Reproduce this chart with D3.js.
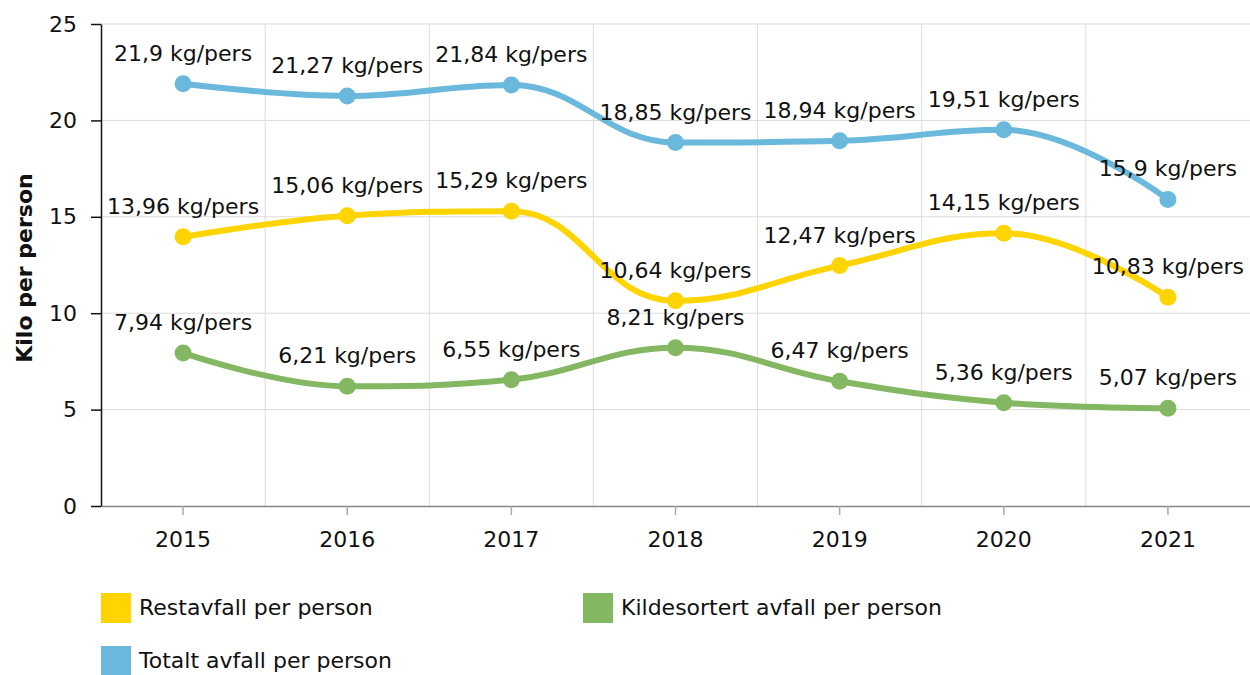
<!DOCTYPE html>
<html>
<head>
<meta charset="utf-8">
<script src="https://cdn.jsdelivr.net/npm/d3@7"></script>
<style>
  body { margin: 0; background: #fff; }
  text { font-family: "DejaVu Sans", Verdana, sans-serif; fill: #111; }
</style>
</head>
<body>
<div id="chart"></div>
<script>
// data
const years = ["2015", "2016", "2017", "2018", "2019", "2020", "2021"];
const restavfall = [13.96, 15.06, 15.29, 10.64, 12.47, 14.15, 10.83];
const kildesortert = [7.94, 6.21, 6.55, 8.21, 6.47, 5.36, 5.07];
const totalt = [21.9, 21.27, 21.84, 18.85, 18.94, 19.51, 15.9];
const yTicks = [0, 5, 10, 15, 20, 25];

const series = [
  { name: "Totalt avfall per person", values: totalt, color: "#6ab8dc" },
  { name: "Restavfall per person", values: restavfall, color: "#ffd400" },
  { name: "Kildesortert avfall per person", values: kildesortert, color: "#84b762" }
];
const legendItems = [
  { name: "Restavfall per person", color: "#ffd400", col: 0, row: 0 },
  { name: "Kildesortert avfall per person", color: "#84b762", col: 1, row: 0 },
  { name: "Totalt avfall per person", color: "#6ab8dc", col: 0, row: 1 }
];

const W = 1250, H = 675;
const margin = { top: 24, right: 0, bottom: 169, left: 101 };
const width = W - margin.left - margin.right;
const height = H - margin.top - margin.bottom;

// spline curve like the one the original chart used (smoothing 1.5, no false extremes)
function splineCurve(context) {
  let pts;
  return {
    lineStart() { pts = []; },
    point(x, y) { pts.push([+x, +y]); },
    lineEnd() {
      const n = pts.length;
      if (!n) return;
      const s = 1.5, den = s + 1;
      const ctl = pts.map((p, i) => {
        if (i === 0 || i === n - 1) return { l: p, r: p };
        const [px, py] = p, [ax, ay] = pts[i - 1], [bx, by] = pts[i + 1];
        let lx = (s * px + ax) / den, ly = (s * py + ay) / den;
        let rx = (s * px + bx) / den, ry = (s * py + by) / den;
        const dl = Math.hypot(lx - px, ly - py), dr = Math.hypot(rx - px, ry - py);
        const la = Math.atan2(ly - py, lx - px), ra = Math.atan2(ry - py, rx - px);
        let corr = Math.PI / 2 + (la + ra) / 2;
        if (Math.abs(la - corr) > Math.PI / 2) corr -= Math.PI;
        lx = px + Math.cos(corr) * dl; ly = py + Math.sin(corr) * dl;
        rx = px + Math.cos(Math.PI + corr) * dr; ry = py + Math.sin(Math.PI + corr) * dr;
        if (ly > ay && ly > py) { ly = Math.max(ay, py); ry = 2 * py - ly; }
        else if (ly < ay && ly < py) { ly = Math.min(ay, py); ry = 2 * py - ly; }
        if (ry > by && ry > py) { ry = Math.max(by, py); ly = 2 * py - ry; }
        else if (ry < by && ry < py) { ry = Math.min(by, py); ly = 2 * py - ry; }
        return { l: [lx, ly], r: [rx, ry] };
      });
      context.moveTo(pts[0][0], pts[0][1]);
      for (let i = 1; i < n; i++) {
        const a = ctl[i - 1].r, b = ctl[i].l;
        context.bezierCurveTo(a[0], a[1], b[0], b[1], pts[i][0], pts[i][1]);
      }
    }
  };
}

const svg = d3.select("#chart").append("svg")
  .attr("width", W).attr("height", H)
  .attr("xmlns", "http://www.w3.org/2000/svg");

const g = svg.append("g").attr("transform", `translate(${margin.left},${margin.top})`);

const x = d3.scaleBand().domain(years).range([0, width]);
const y = d3.scaleLinear().domain([0, 25]).range([height, 0]);
const cx = d => x(d) + x.bandwidth() / 2;

// grid
g.append("g").selectAll("line.h").data(yTicks.filter(t => t > 0)).join("line")
  .attr("x1", 0).attr("x2", width)
  .attr("y1", d => y(d)).attr("y2", d => y(d))
  .attr("stroke", "#dcdcdc").attr("stroke-width", 1);
g.append("g").selectAll("line.v").data(years.slice(1)).join("line")
  .attr("x1", d => x(d)).attr("x2", d => x(d))
  .attr("y1", 0).attr("y2", height)
  .attr("stroke", "#dcdcdc").attr("stroke-width", 1);

// x axis
const xAxis = g.append("g").attr("transform", `translate(0,${height})`)
  .call(d3.axisBottom(x).tickSize(9).tickSizeOuter(0).tickPadding(16));
xAxis.select(".domain").attr("stroke", "#888").attr("stroke-width", 1.5);
xAxis.selectAll(".tick line").attr("stroke", "#aaa").attr("stroke-width", 1.5);
xAxis.selectAll("text").style("font-size", "22px").attr("fill", "#111");

// y axis
const yAxis = g.append("g")
  .call(d3.axisLeft(y).tickValues(yTicks).tickSize(10).tickPadding(14).tickSizeOuter(0));
yAxis.select(".domain").attr("stroke", "#111").attr("stroke-width", 1.5);
yAxis.selectAll(".tick line").attr("stroke", "#111").attr("stroke-width", 1.5);
yAxis.selectAll("text").style("font-size", "22px").attr("fill", "#111");

svg.append("text")
  .attr("transform", `translate(32,${margin.top + height / 2 + 3}) rotate(-90)`)
  .attr("text-anchor", "middle")
  .style("font-size", "22px").style("font-weight", "bold")
  .text("Kilo per person");

// lines
const line = d3.line()
  .x((d, i) => cx(years[i]))
  .y(d => y(d))
  .curve(splineCurve);

const sg = g.selectAll("g.series").data(series).join("g");
sg.append("path")
  .attr("fill", "none")
  .attr("stroke", d => d.color)
  .attr("stroke-width", 6)
  .attr("stroke-linecap", "round")
  .attr("d", d => line(d.values));
sg.selectAll("circle").data(d => d.values.map(v => ({ v, color: d.color }))).join("circle")
  .attr("cx", (d, i) => cx(years[i]))
  .attr("cy", d => y(d.v))
  .attr("r", 8.5)
  .attr("fill", d => d.color);

// labels
const fmt = v => String(v).replace(".", ",") + " kg/pers";
sg.selectAll("text").data(d => d.values).join("text")
  .attr("x", (d, i) => cx(years[i]))
  .attr("y", d => y(d) - 23)
  .attr("text-anchor", "middle")
  .style("font-size", "22px")
  .text(d => fmt(d));

// legend
const lg = svg.append("g");
const leg = lg.selectAll("g").data(legendItems).join("g")
  .attr("transform", d => `translate(${101 + d.col * 482},${593 + d.row * 53})`);
leg.append("rect").attr("width", 30).attr("height", 30).attr("fill", d => d.color);
leg.append("text").attr("x", 38).attr("y", 22)
  .style("font-size", "22px")
  .text(d => d.name);
</script>
</body>
</html>
